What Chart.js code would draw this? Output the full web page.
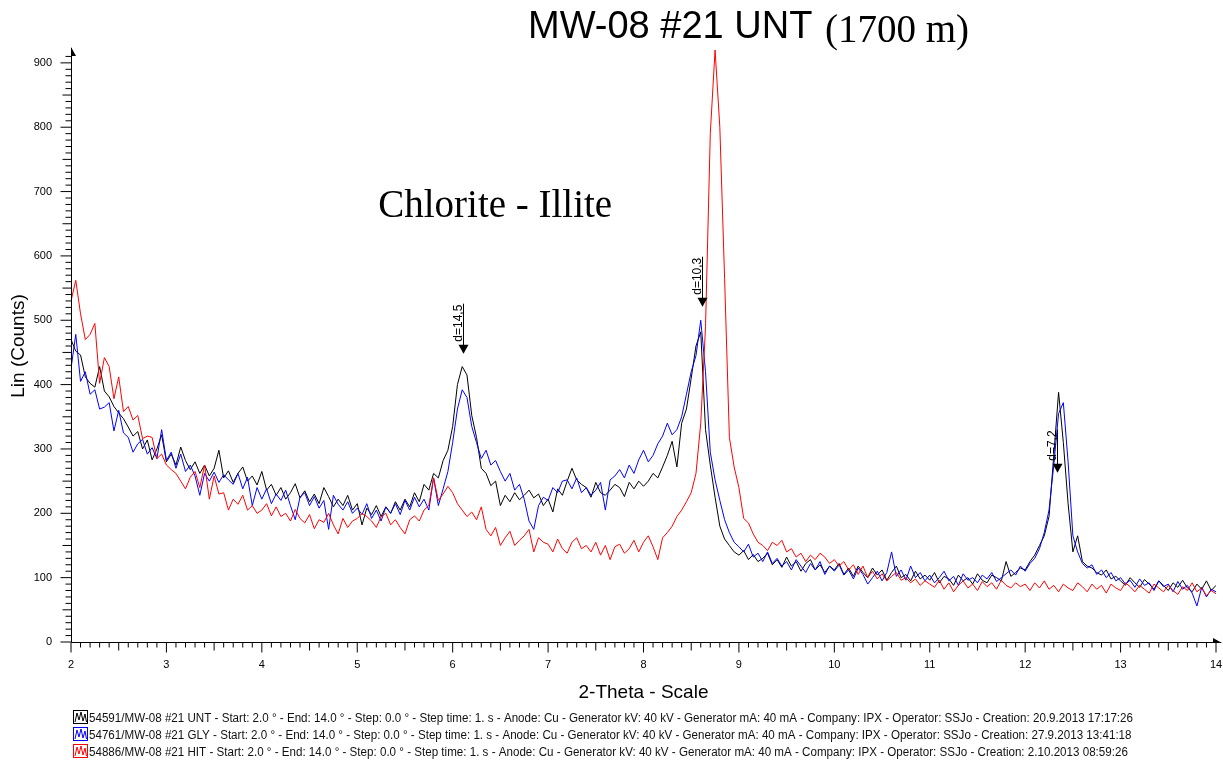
<!DOCTYPE html>
<html>
<head>
<meta charset="utf-8">
<script src="https://cdn.jsdelivr.net/npm/chart.js@4.4.1/dist/chart.umd.min.js"></script>
<style>
  html, body { margin: 0; padding: 0; background: #fff; }
  canvas { display: block; }
</style>
</head>
<body>
<canvas id="xrd" width="1223" height="764"></canvas>
<script>
// Scan definition: 2.0 .. 14.0 deg 2-theta, one reading every 0.05 deg
const START_ANGLE = 2.0;
const STEP = 0.05;

const X_TICKS = [2, 3, 4, 5, 6, 7, 8, 9, 10, 11, 12, 13, 14];
const Y_TICKS = [0, 100, 200, 300, 400, 500, 600, 700, 800, 900];

// Counts, one row per degree (20 readings each) plus the final 14.0 reading
const UNT = [
  470, 452, 446, 412, 402, 396, 428, 390, 381, 366, 356, 347, 334, 320, 327, 300, 314, 283, 300, 322,
  280, 292, 275, 303, 282, 268, 280, 262, 275, 258, 270, 298, 255, 266, 248, 262, 272, 250, 258, 244,
  265, 236, 245, 228, 240, 222, 232, 246, 224, 235, 218, 230, 215, 240, 226, 210, 222, 212, 228, 205,
  215, 182, 208, 198, 212, 195, 210, 200, 218, 205, 222, 210, 232, 218, 245, 236, 262, 255, 282, 298,
  335, 400, 428, 415, 352, 318, 270, 262, 243, 250, 212, 228, 218, 232, 221, 228, 236, 224, 230, 212,
  222, 202, 238, 228, 250, 270, 252, 245, 240, 225, 248, 232, 228, 236, 245, 240, 226, 248, 238, 250,
  242, 250, 262, 255, 272, 290, 312, 272, 340, 362, 410, 460, 482, 330, 275, 225, 180, 160, 150, 140,
  135, 142, 128, 136, 125, 130, 138, 120, 128, 116, 132, 118, 125, 110, 122, 128, 112, 120, 108, 118,
  112, 122, 105, 115, 102, 118, 108, 100, 115, 104, 112, 96, 108, 118, 100, 105, 95, 110, 98, 104,
  96, 108, 92, 102, 98, 88, 104, 95, 100, 90, 106, 96, 92, 104, 100, 95, 125, 102, 108, 115,
  112, 125, 135, 150, 165, 195, 290, 388, 310, 215, 140, 165, 125, 118, 115, 108, 104, 112, 98, 102,
  95, 88, 100, 92, 85, 97, 90, 82, 95, 88, 80, 92, 85, 96, 84, 78, 90, 82, 95, 80,
  88
];

const GLY = [
  425, 478, 405, 420, 385, 392, 362, 365, 372, 328, 360, 325, 318, 295, 308, 315, 292, 302, 285, 330,
  282, 295, 270, 292, 265, 275, 258, 228, 262, 250, 264, 248, 260, 252, 245, 262, 238, 256, 212, 240,
  222, 238, 215, 230, 220, 236, 212, 190, 225, 232, 212, 226, 208, 220, 175, 228, 214, 205, 218, 200,
  208, 198, 215, 192, 205, 188, 210, 200, 215, 198, 220, 205, 225, 210, 222, 205, 255, 212, 238, 265,
  310, 362, 392, 380, 335, 310, 285, 298, 275, 282, 265, 250, 262, 236, 245, 222, 188, 175, 212, 225,
  220, 240, 232, 250, 252, 238, 255, 232, 240, 228, 236, 248, 205, 252, 258, 268, 255, 275, 262, 283,
  298, 280, 290, 308, 320, 340, 322, 330, 350, 385, 420, 445, 500, 420, 295, 252, 220, 190, 170, 155,
  148, 140, 152, 132, 138, 125, 140, 122, 130, 118, 125, 112, 128, 118, 108, 122, 112, 125, 105, 118,
  110, 120, 104, 112, 98, 115, 105, 90, 100, 110, 95, 108, 140, 102, 112, 96, 118, 100, 108, 95,
  104, 92, 100, 110, 95, 102, 88, 106, 96, 100, 92, 104, 98, 108, 94, 100, 106, 112, 104, 118,
  110, 122, 130, 145, 170, 205, 275, 355, 372, 280, 165, 140, 122, 115, 120, 105, 112, 100, 108, 95,
  100, 90, 96, 85, 98, 88, 92, 80, 95, 86, 90, 78, 94, 82, 88, 76, 56, 85, 70, 82,
  78
];

const HIT = [
  530, 562, 510, 470, 478, 495, 402, 442, 428, 378, 412, 358, 366, 345, 352, 316, 320, 318, 285, 292,
  275, 268, 262, 250, 238, 256, 265, 240, 275, 222, 258, 230, 232, 205, 222, 214, 228, 205, 212, 200,
  205, 215, 196, 210, 195, 200, 188, 206, 192, 185, 198, 176, 190, 186, 200, 182, 168, 192, 178, 188,
  192, 200, 195, 188, 178, 195, 200, 182, 190, 178, 168, 190, 196, 188, 205, 212, 255, 220, 230, 242,
  232, 215, 205, 195, 202, 190, 210, 175, 165, 178, 150, 162, 172, 150, 158, 165, 175, 140, 162, 155,
  152, 140, 160, 145, 138, 155, 162, 145, 150, 140, 155, 135, 150, 128, 148, 152, 138, 145, 158, 140,
  155, 165, 148, 128, 162, 170, 180, 195, 205, 218, 232, 262, 340, 490, 790, 920, 800, 565, 318, 272,
  240, 192, 185, 168, 155, 150, 142, 155, 150, 158, 140, 145, 132, 138, 125, 135, 128, 138, 132, 122,
  128, 118, 125, 112, 120, 105, 118, 100, 110, 98, 106, 95, 102, 108, 96, 100, 92, 98, 88, 95,
  90, 85, 96, 82, 92, 78, 88, 95, 84, 90, 80, 94, 86, 92, 82, 96, 88, 84, 92, 86,
  90, 80, 92, 84, 95, 82, 88, 78, 90, 84, 80, 92, 86, 78, 90, 82, 88, 76, 90, 84,
  80, 92, 86, 78, 88, 82, 76, 90, 84, 78, 88, 80, 74, 86, 80, 92, 78, 84, 72, 80,
  75
];

const SCAN_LABELS = [
  '54591/MW-08 #21 UNT - Start: 2.0 \u00b0 - End: 14.0 \u00b0 - Step: 0.0 \u00b0 - Step time: 1. s - Anode: Cu - Generator kV: 40 kV - Generator mA: 40 mA - Company: IPX - Operator: SSJo - Creation: 20.9.2013 17:17:26',
  '54761/MW-08 #21 GLY - Start: 2.0 \u00b0 - End: 14.0 \u00b0 - Step: 0.0 \u00b0 - Step time: 1. s - Anode: Cu - Generator kV: 40 kV - Generator mA: 40 mA - Company: IPX - Operator: SSJo - Creation: 27.9.2013 13:41:18',
  '54886/MW-08 #21 HIT - Start: 2.0 \u00b0 - End: 14.0 \u00b0 - Step: 0.0 \u00b0 - Step time: 1. s - Anode: Cu - Generator kV: 40 kV - Generator mA: 40 mA - Company: IPX - Operator: SSJo - Creation: 2.10.2013 08:59:26'
];
const SCAN_COLORS = ['#000000', '#0000ff', '#ff0000'];

// Peak markers: d-spacing label, 2-theta position, count level of the arrow tip
const PEAK_LABELS = ['d=14,5', 'd=10,3', 'd=7,2'];
const PEAK_ANGLES = [6.11, 8.61, 12.33];
const PEAK_TIPS = [448, 521, 263];

const NOTE_TEXT = 'Chlorite - Illite';
const NOTE_AT = [5.22, 660];

const ANGLES = UNT.map((_, i) => +(START_ANGLE + i * STEP).toFixed(2));
const toPoints = arr => arr.map((v, i) => ({ x: ANGLES[i], y: v }));

const SANS = '"Liberation Sans", Arial, sans-serif';
const SERIF = '"Liberation Serif", "Times New Roman", serif';
Chart.defaults.font.family = SANS;

const decor = {
  id: 'decor',
  afterDraw(chart) {
    const { ctx, chartArea: ca, scales: { x, y } } = chart;
    const ax = Math.round(ca.left) + 0.5;
    const ay = Math.round(y.getPixelForValue(0)) + 0.5;
    ctx.save();
    ctx.strokeStyle = '#000';
    ctx.fillStyle = '#000';
    ctx.lineWidth = 1;

    // axis lines
    ctx.beginPath();
    ctx.moveTo(ax, ay); ctx.lineTo(ax, ca.top - 2);
    ctx.moveTo(ax, ay); ctx.lineTo(ca.right + 5, ay);
    ctx.stroke();

    // y tick marks: every 10 counts, longer at 50 and 100
    ctx.beginPath();
    for (let v = 0; v <= 910; v += 10) {
      const len = v % 100 === 0 ? 11 : (v % 50 === 0 ? 9 : 6);
      const py = y.getPixelForValue(v);
      ctx.moveTo(ax - len, py); ctx.lineTo(ax, py);
    }
    // x tick marks: every 0.1 deg, longer at 0.5 and 1
    for (let i = 0; i <= 120; i++) {
      const len = i % 10 === 0 ? 10 : (i % 5 === 0 ? 8 : 5);
      const px = x.getPixelForValue(2 + i / 10);
      ctx.moveTo(px, ay); ctx.lineTo(px, ay + len);
    }
    ctx.stroke();

    // axis arrow heads
    ctx.beginPath();
    ctx.moveTo(ax - 0.5, ca.top - 3); ctx.lineTo(ax + 4.5, ca.top + 6); ctx.lineTo(ax - 0.5, ca.top + 6);
    ctx.closePath(); ctx.fill();
    ctx.beginPath();
    ctx.moveTo(ca.right + 6, ay + 0.5); ctx.lineTo(ca.right - 3, ay - 4.5); ctx.lineTo(ca.right - 3, ay + 0.5);
    ctx.closePath(); ctx.fill();

    // peak markers
    ctx.font = '12px ' + SANS;
    PEAK_LABELS.forEach((label, i) => {
      const px = Math.round(x.getPixelForValue(PEAK_ANGLES[i])) + 0.5;
      const tip = y.getPixelForValue(PEAK_TIPS[i]);
      const w = ctx.measureText(label).width;
      ctx.beginPath();
      ctx.moveTo(px, tip - 8); ctx.lineTo(px, tip - 13 - w);
      ctx.stroke();
      ctx.beginPath();
      ctx.moveTo(px - 5, tip - 9); ctx.lineTo(px + 5, tip - 9); ctx.lineTo(px, tip);
      ctx.closePath(); ctx.fill();
      ctx.save();
      ctx.translate(px - 2, tip - 12);
      ctx.rotate(-Math.PI / 2);
      ctx.textAlign = 'left';
      ctx.textBaseline = 'alphabetic';
      ctx.fillText(label, 0, 0);
      ctx.restore();
    });

    // chart title and mineral note
    ctx.textAlign = 'left';
    ctx.textBaseline = 'alphabetic';
    ctx.font = '38px ' + SANS;
    ctx.fillText('MW-08 #21 UNT', 528, 38);
    ctx.font = '39px ' + SERIF;
    ctx.fillText('(1700 m)', 825, 42);
    ctx.fillText(NOTE_TEXT, x.getPixelForValue(NOTE_AT[0]), y.getPixelForValue(NOTE_AT[1]));

    // scan legend
    ctx.font = '12px ' + SANS;
    const squeeze = 1044 / ctx.measureText(SCAN_LABELS[0]).width;
    chart.data.datasets.forEach((ds, i) => {
      const cy = 717 + i * 17;
      ctx.strokeStyle = ds.borderColor;
      ctx.lineWidth = 1;
      ctx.strokeRect(73.5, cy - 6.5, 14, 13);
      ctx.beginPath();
      const zig = [[75, 5], [77, -4], [79, 3], [81, -5], [83, 4], [85, -3], [86.5, 5]];
      zig.forEach(([zx, zy], k) => k ? ctx.lineTo(zx, cy + zy) : ctx.moveTo(zx, cy + zy));
      ctx.stroke();
      ctx.save();
      ctx.fillStyle = '#111';
      ctx.translate(89, cy + 4.5);
      ctx.scale(squeeze, 1);
      ctx.fillText(ds.label, 0, 0);
      ctx.restore();
    });
    ctx.restore();
  }
};

new Chart(document.getElementById('xrd'), {
  type: 'line',
  data: {
    datasets: [
      { label: SCAN_LABELS[0], data: toPoints(UNT), borderColor: SCAN_COLORS[0], order: 2 },
      { label: SCAN_LABELS[1], data: toPoints(GLY), borderColor: SCAN_COLORS[1], order: 1 },
      { label: SCAN_LABELS[2], data: toPoints(HIT), borderColor: SCAN_COLORS[2], order: 0 }
    ]
  },
  options: {
    responsive: false,
    animation: false,
    devicePixelRatio: 1,
    layout: { padding: { left: 0, right: 7, top: 50, bottom: 0 } },
    elements: {
      line: { borderWidth: 1, tension: 0, fill: false },
      point: { radius: 0, hoverRadius: 0 }
    },
    plugins: { legend: { display: false }, tooltip: { enabled: false } },
    events: [],
    scales: {
      x: {
        type: 'linear',
        min: 2,
        max: 14,
        afterFit: s => { s.height = 122; s.paddingLeft = 0; s.paddingRight = 0; },
        afterBuildTicks: s => { s.ticks = X_TICKS.map(v => ({ value: v })); },
        grid: { display: false, drawTicks: true, tickLength: 10 },
        border: { display: false },
        ticks: { color: '#000', font: { size: 11 }, padding: 6, maxRotation: 0, autoSkip: false },
        title: {
          display: true, text: '2-Theta - Scale', color: '#000',
          font: { size: 19 }, padding: { top: 0, bottom: 60 }
        }
      },
      y: {
        type: 'linear',
        min: 0,
        max: 920,
        afterFit: s => { s.width = 71; s.paddingTop = 0; s.paddingBottom = 0; },
        afterBuildTicks: s => { s.ticks = Y_TICKS.map(v => ({ value: v })); },
        grid: { display: false, drawTicks: true, tickLength: 11 },
        border: { display: false },
        ticks: { color: '#000', font: { size: 11 }, padding: 8, autoSkip: false },
        title: {
          display: true, text: 'Lin (Counts)', color: '#000',
          font: { size: 19 }, padding: { top: 7, bottom: 0 }
        }
      }
    }
  },
  plugins: [decor]
});
</script>
</body>
</html>
